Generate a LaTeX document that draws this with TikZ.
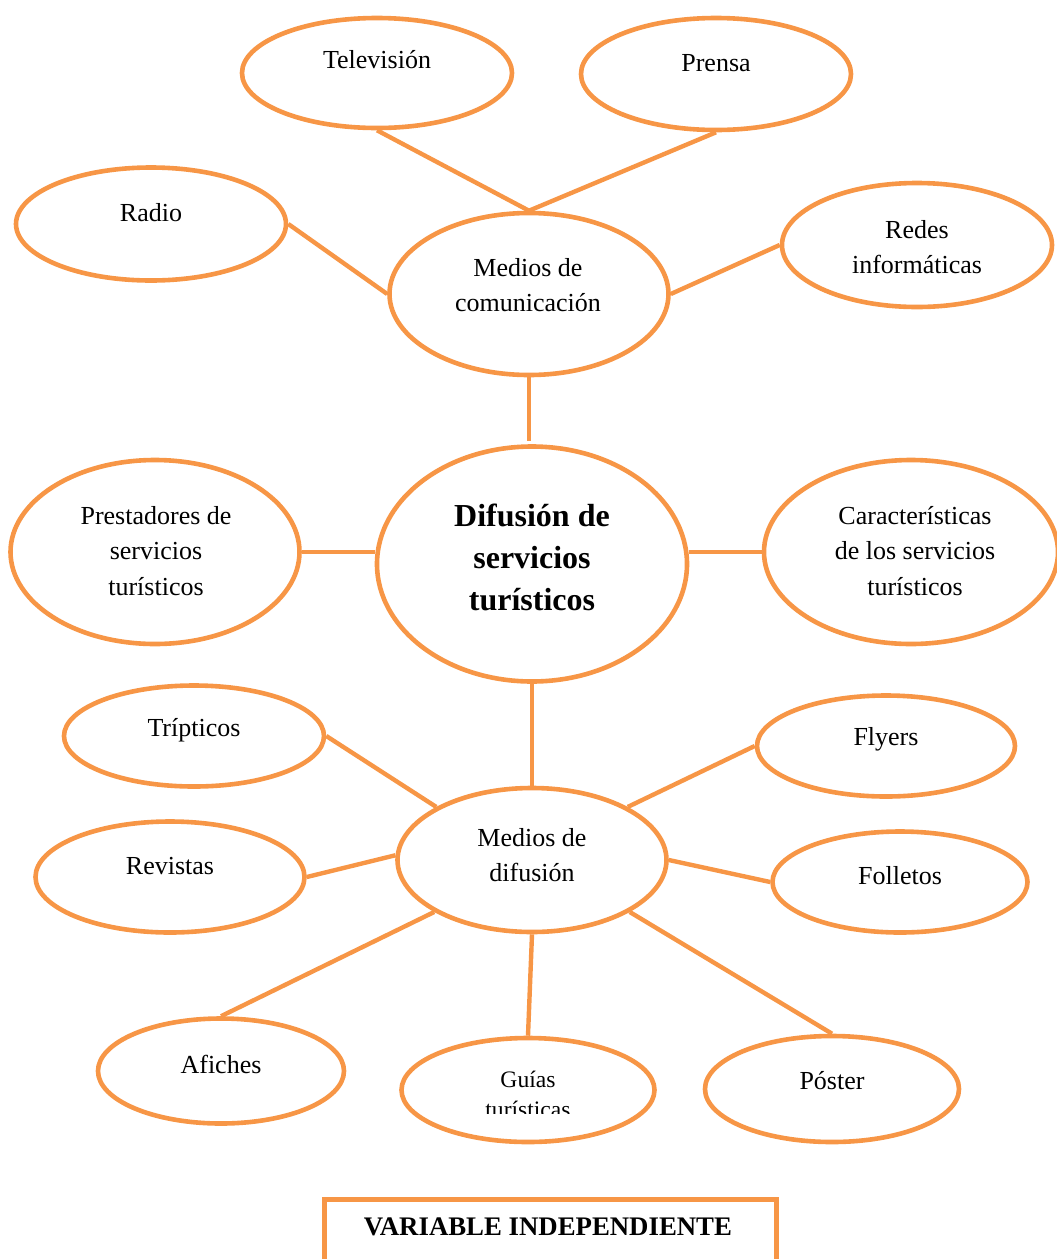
\documentclass[tikz,border=0pt]{standalone}
\usepackage{fontspec}
\setmainfont{Liberation Serif}
\usetikzlibrary{shapes.geometric}
\definecolor{accent}{HTML}{F79646}
\tikzset{
  bub/.style={ellipse, draw=accent, line width=4.6pt, fill=white, inner sep=0pt},
  lbl/.style={align=center, inner sep=0pt, font=\fontsize{26}{35.5}\selectfont},
  title/.style={align=center, inner sep=0pt, font=\fontsize{32}{42}\selectfont\bfseries},
  link/.style={draw=accent, line width=4.4pt},
}
\begin{document}
\begin{tikzpicture}[x=1pt, y=-1pt]
\useasboundingbox (0,0) rectangle (1057,1259);

% hub ellipses
\node[bub, minimum width=279, minimum height=162] (mc) at (529,294) {};
\node[bub, minimum width=310, minimum height=235] (dif) at (532,564) {};
\node[bub, minimum width=269, minimum height=144] (md) at (532,860) {};

% outer ellipses: communication media
\node[bub, minimum width=270, minimum height=110] (tv) at (377,73) {};
\node[bub, minimum width=270, minimum height=112] (pr) at (716,74) {};
\node[bub, minimum width=270, minimum height=113] (ra) at (151,224) {};
\node[bub, minimum width=270, minimum height=124] (re) at (917,245) {};

% side ellipses
\node[bub, minimum width=289, minimum height=184] (ps) at (155,552) {};
\node[bub, minimum width=294, minimum height=184] (ca) at (911,552) {};

% outer ellipses: diffusion media
\node[bub, minimum width=260, minimum height=101] (tr) at (194,736) {};
\node[bub, minimum width=258, minimum height=101] (fl) at (886,746) {};
\node[bub, minimum width=269, minimum height=111] (rv) at (170,877) {};
\node[bub, minimum width=255, minimum height=101] (fo) at (900,882) {};
\node[bub, minimum width=246, minimum height=105] (af) at (221,1071) {};
\node[bub, minimum width=253, minimum height=104] (gu) at (528,1090) {};
\node[bub, minimum width=254, minimum height=106] (po) at (832,1089) {};

% connectors
\draw[link] (tv.south) -- (mc.north);
\draw[link] (pr.south) -- (mc.north);
\draw[link] (ra.east) -- (mc.west);
\draw[link] (re.west) -- (mc.east);
\draw[link, shorten >=3pt] (mc.south) -- (mc.south |- dif.north);
\draw[link] (ps.east) -- (ps.east -| dif.west);
\draw[link] (dif.east |- ca.west) -- (ca.west);
\draw[link] (dif.south) -- (md.north);
\draw[link] (tr.east) -- (md.151);
\draw[link] (fl.west) -- (md.29);
\draw[link] (rv.east) -- (md.178);
\draw[link] (fo.west) -- (md.east);
\draw[link] (af.north) -- (md.208);
\draw[link] (gu.north) -- (md.south);
\draw[link] (po.north) -- (md.332);

% texts
\node[lbl] (mct) at (528,285) {Medios de\\comunicación};
\node[title] (dift) at (532,557) {Difusión de\\servicios\\turísticos};
\node[lbl] (mdt) at (532,855) {Medios de\\difusión};
\node[lbl] (tvt) at (377,60) {Televisión};
\node[lbl] (prt) at (716,63) {Prensa};
\node[lbl] (rat) at (151,213) {Radio};
\node[lbl] (ret) at (917,247) {Redes\\informáticas};
\node[lbl] (pst) at (156,551) {Prestadores de\\servicios\\turísticos};
\node[lbl] (cat) at (915,551) {Características\\de los servicios\\turísticos};
\node[lbl] (trt) at (194,730) {Trípticos};
\node[lbl] (flt) at (886,739) {Flyers};
\node[lbl] (rvt) at (170,866) {Revistas};
\node[lbl] (fot) at (900,876) {Folletos};
\node[lbl] (aft) at (221,1064) {Afiches};
\node[lbl] (pot) at (832,1081) {Póster};
\begin{scope}
  \clip (400,1040) rectangle (660,1113);
  \node[lbl, font=\fontsize{23.6}{30}\selectfont] (gut) at (528,1094) {Guías\\turísticas};
\end{scope}

% caption box
\node[draw=accent, line width=4.6pt, minimum width=452, minimum height=80,
      anchor=north west, inner sep=0pt] (box) at (322,1197) {};
\node[inner sep=0pt, font=\fontsize{26.8}{30}\selectfont\bfseries] (boxt) at (548,1227) {VARIABLE INDEPENDIENTE};
\end{tikzpicture}
\end{document}
